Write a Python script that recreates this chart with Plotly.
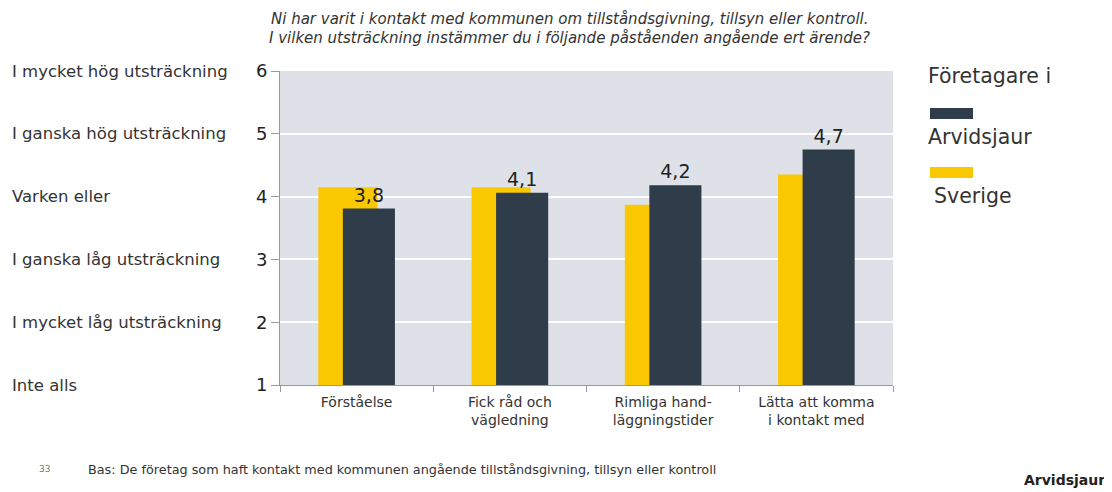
import plotly.graph_objects as go

categories = ["Förståelse", "Fick råd och<br>vägledning", "Rimliga hand-<br>läggningstider", "Lätta att komma<br>i kontakt med"]
sverige = [4.15, 4.15, 3.87, 4.35]
arvidsjaur = [3.81, 4.06, 4.18, 4.75]
arvidsjaur_labels = ["3,8", "4,1", "4,2", "4,7"]
scale_values = [1, 2, 3, 4, 5, 6]
scale_labels = ["Inte alls", "I mycket låg utsträckning", "I ganska låg utsträckning",
                "Varken eller", "I ganska hög utsträckning", "I mycket hög utsträckning"]
title_lines = ["Ni har varit i kontakt med kommunen om tillståndsgivning, tillsyn eller kontroll.",
               "I vilken utsträckning instämmer du i följande påståenden angående ert ärende?"]

FONT = "DejaVu Sans, Verdana, sans-serif"
YELLOW = "#FAC800"
DARK = "#2F3D4A"
TXT = "#333333"

# page-coordinate helpers (page offset 8px; plot spans page x 280..893, y 71..385)
PW, PH = 613, 314
def py(page_y):
    return (385 - page_y) / PH

fig = go.Figure()
fig.add_trace(go.Bar(
    x=categories, y=[v - 1 for v in sverige], base=1, name="Sverige",
    marker=dict(color=YELLOW, line=dict(width=0)),
    width=0.385, offset=-0.25, hoverinfo="skip",
))
fig.add_trace(go.Bar(
    x=categories, y=[v - 1 for v in arvidsjaur], base=1, name="Arvidsjaur",
    marker=dict(color=DARK, line=dict(width=0)),
    width=0.34, offset=-0.09,
    text=arvidsjaur_labels, textposition="outside", cliponaxis=False,
    textfont=dict(size=19, color="#222", family=FONT),
))

fig.update_layout(
    width=1104, height=484,
    margin=dict(l=272, r=219, t=63, b=107),
    barmode="overlay",
    showlegend=False,
    paper_bgcolor="white",
    plot_bgcolor="#DEE2E8",
    font=dict(family=FONT, color=TXT),
    xaxis=dict(
        showline=True, linecolor="#999", linewidth=1,
        ticks="outside", ticklen=6, tickcolor="#999", tickson="boundaries",
        tickfont=dict(size=14, color=TXT), showgrid=False,
        ticklabelstandoff=4,
    ),
    yaxis=dict(
        range=[1, 6], tickvals=scale_values, ticktext=[str(v) for v in scale_values],
        showline=True, linecolor="#999", linewidth=1,
        ticks="outside", ticklen=8, tickcolor="#999",
        tickfont=dict(size=18, color="#222"),
        showgrid=True, gridcolor="white", gridwidth=2,
        zeroline=False,
    ),
)

# left-side scale labels
for v, lab in zip(scale_values, scale_labels):
    fig.add_annotation(x=0, xref="paper", y=v, yref="y", xshift=-270,
                       text=lab, showarrow=False, xanchor="left", yanchor="middle",
                       font=dict(size=16.5, color=TXT, family=FONT))

# title (two italic lines)
for line, top in zip(title_lines, [8, 27]):
    fig.add_annotation(x=0.5, xref="paper", y=py(top), yref="paper", xshift=-17,
                       text="<i>" + line + "</i>", showarrow=False,
                       xanchor="center", yanchor="top",
                       font=dict(size=15, color=TXT, family=FONT))

# custom legend
fig.add_annotation(x=1, xref="paper", y=py(76), yref="paper", xshift=33,
                   text="Företagare i", showarrow=False, xanchor="left", yanchor="middle",
                   font=dict(size=20.5, color=TXT, family=FONT))
fig.add_shape(type="rect", xref="paper", yref="paper",
              x0=1 + 37 / PW, x1=1 + 80 / PW, y0=py(119), y1=py(108),
              fillcolor=DARK, line=dict(width=0))
fig.add_annotation(x=1, xref="paper", y=py(137), yref="paper", xshift=33,
                   text="Arvidsjaur", showarrow=False, xanchor="left", yanchor="middle",
                   font=dict(size=20.5, color=TXT, family=FONT))
fig.add_shape(type="rect", xref="paper", yref="paper",
              x0=1 + 37 / PW, x1=1 + 80 / PW, y0=py(178), y1=py(167),
              fillcolor=YELLOW, line=dict(width=0))
fig.add_annotation(x=1, xref="paper", y=py(196), yref="paper", xshift=39,
                   text="Sverige", showarrow=False, xanchor="left", yanchor="middle",
                   font=dict(size=20.5, color=TXT, family=FONT))

# footer
fig.add_annotation(x=0, xref="paper", y=py(469), yref="paper", xshift=-243,
                   text="33", showarrow=False, xanchor="left", yanchor="middle",
                   font=dict(size=9, color="#777", family=FONT))
fig.add_annotation(x=0, xref="paper", y=py(469), yref="paper", xshift=-194,
                   text="Bas: De företag som haft kontakt med kommunen angående tillståndsgivning, tillsyn eller kontroll",
                   showarrow=False, xanchor="left", yanchor="middle",
                   font=dict(size=12.8, color=TXT, family=FONT))
fig.add_annotation(x=1, xref="paper", y=py(480), yref="paper", xshift=214,
                   text="<b>Arvidsjaur</b>", showarrow=False, xanchor="right", yanchor="middle",
                   font=dict(size=14, color="#222", family=FONT))

fig.write_html("out.html")
